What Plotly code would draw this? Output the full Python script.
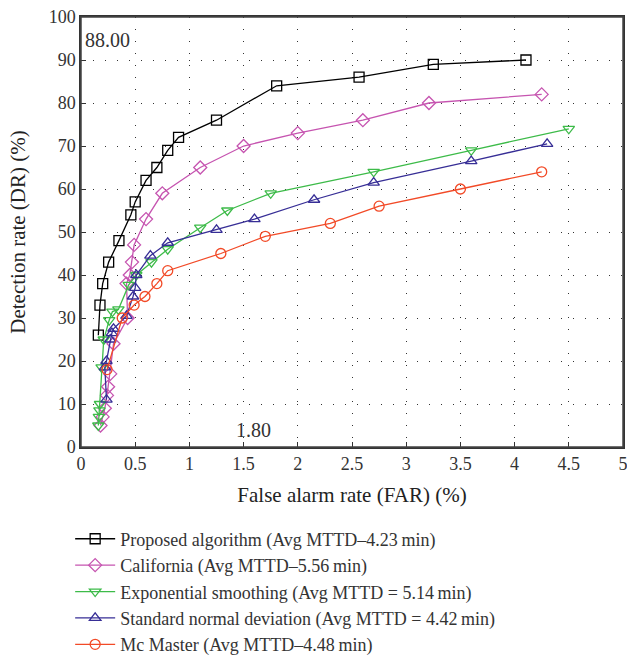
import plotly.graph_objects as go

# ---- data ----
prop_x = [0.16, 0.175, 0.20, 0.255, 0.35, 0.46, 0.50, 0.60, 0.70, 0.80, 0.90, 1.25, 1.805, 2.565, 3.25, 4.105]
prop_y = [26, 33, 38, 43, 48, 54, 57, 62, 65, 69, 72, 76, 84, 86, 89, 90]

cal_x = [0.18, 0.20, 0.22, 0.24, 0.25, 0.27, 0.30, 0.43, 0.42, 0.45, 0.47, 0.49, 0.60, 0.75, 1.10, 1.50, 2.00, 2.60, 3.21, 4.25]
cal_y = [5, 7, 9, 12, 14, 17, 24, 30, 38, 40, 43, 47, 53, 59, 65, 70, 73, 76, 80, 82]

exp_x = [0.16, 0.165, 0.17, 0.175, 0.19, 0.21, 0.26, 0.29, 0.345, 0.44, 0.51, 0.65, 0.80, 1.10, 1.35, 1.75, 2.70, 3.60, 4.50]
exp_y = [5, 7, 8.5, 10, 18.5, 25, 29.5, 31.5, 32, 37.7, 40, 43, 46, 51, 55, 59, 64, 69, 74]

snd_x = [0.235, 0.22, 0.235, 0.27, 0.285, 0.30, 0.42, 0.48, 0.50, 0.51, 0.64, 0.80, 1.25, 1.60, 2.15, 2.70, 3.60, 4.30]
snd_y = [11, 18.5, 20, 25, 26.5, 27.5, 30.5, 35, 37, 40, 44.5, 47.5, 50.5, 53, 57.5, 61.5, 66.5, 70.5]

mcm_x = [0.24, 0.38, 0.49, 0.59, 0.70, 0.80, 1.29, 1.70, 2.30, 2.75, 3.50, 4.25]
mcm_y = [18, 30, 33, 35, 38, 41, 45, 49, 52, 56, 60, 64]

names = [
    "Proposed algorithm (Avg MTTD\u20134.23\u2009min)",
    "California (Avg MTTD\u20135.56\u2009min)",
    "Exponential smoothing (Avg MTTD = 5.14\u2009min)",
    "Standard normal deviation (Avg MTTD = 4.42\u2009min)",
    "Mc Master (Avg MTTD\u20134.48\u2009min)",
]
x_ticks = [0, 0.5, 1, 1.5, 2, 2.5, 3, 3.5, 4, 4.5, 5]
y_ticks = list(range(0, 101, 10))

series = [
    (prop_x, prop_y, "#000000", "square-open"),
    (cal_x, cal_y, "#C654B0", "diamond-open"),
    (exp_x, exp_y, "#3DBB49", "triangle-down-open"),
    (snd_x, snd_y, "#372E96", "triangle-up-open"),
    (mcm_x, mcm_y, "#F24A27", "circle-open"),
]

FONT = "Liberation Serif"
fig = go.Figure()
for (xs, ys, col, sym), nm in zip(series, names):
    fig.add_trace(go.Scatter(
        x=xs, y=ys, mode="lines+markers", name=nm,
        line=dict(color=col, width=1.3),
        marker=dict(symbol=sym, size=10, color=col, line=dict(color=col, width=1.3)),
    ))

axis_common = dict(
    showline=True, mirror=True, linecolor="#333333", linewidth=1.5,
    ticks="inside", ticklen=5, tickcolor="#333333",
    showgrid=True, gridcolor="#333333", gridwidth=1, griddash="1px,11px",
    zeroline=False, automargin=False, ticklabeloverflow="allow",
    tickfont=dict(family=FONT, size=18, color="#333333"),
)
fig.update_xaxes(range=[0, 5], tickvals=x_ticks, ticktext=[f"{v:g}" for v in x_ticks],
                 title=dict(text="False alarm rate (FAR) (%)", font=dict(family=FONT, size=21, color="#222222"), standoff=14),
                 **axis_common)
fig.update_yaxes(range=[0, 100], tickvals=y_ticks, ticktext=[str(v) for v in y_ticks],
                 title=dict(text="Detection rate (DR) (%)", font=dict(family=FONT, size=21, color="#222222"), standoff=17),
                 **axis_common)

fig.add_shape(type="rect", xref="paper", yref="paper", x0=0, y0=0, x1=1, y1=1,
              line=dict(color="#444444", width=1.5), layer="above")

fig.add_annotation(x=0.02, y=94.7, text="88.00", showarrow=False, xanchor="left",
                   font=dict(family=FONT, size=20, color="#333333"))
fig.add_annotation(x=1.59, y=4, text="1.80", showarrow=False,
                   font=dict(family=FONT, size=20, color="#333333"))

fig.update_layout(
    width=627, height=659,
    margin=dict(l=81, r=4, t=17, b=212, autoexpand=False),
    paper_bgcolor="white", plot_bgcolor="white",
    font=dict(family=FONT, size=18, color="#333333"),
    legend=dict(x=-0.02, y=-0.171, xanchor="left", yanchor="top",
                font=dict(family=FONT, size=18, color="#333333"),
                tracegroupgap=0, itemwidth=40, bgcolor="rgba(0,0,0,0)"),
    showlegend=True,
)
fig.write_html("out.html", config={"displayModeBar": False},
               post_script="document.body.style.margin='0';document.body.style.overflow='hidden';")
